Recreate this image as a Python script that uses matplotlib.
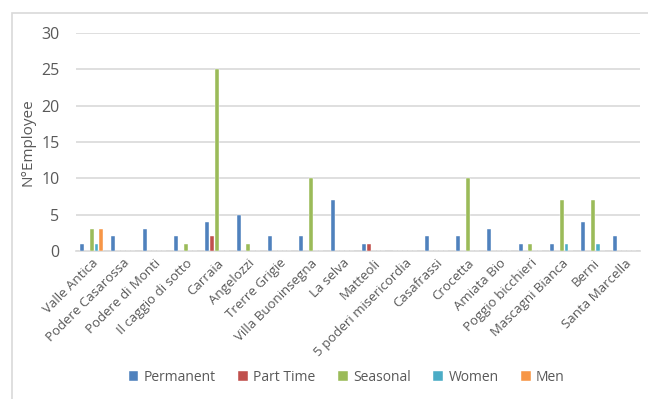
import matplotlib.pyplot as plt
import matplotlib.patches as mpatches
import numpy as np

plt.rcParams['font.family'] = ['Open Sans', 'DejaVu Sans']

farms = ["Valle Antica", "Podere Casarossa", "Podere di Monti", "Il caggio di sotto",
         "Carraia", "Angelozzi", "Trerre Grigie", "Villa Buoninsegna", "La selva",
         "Matteoli", "5 poderi misericordia", "Casafrassi", "Crocetta", "Amiata Bio",
         "Poggio bicchieri", "Mascagni Bianca", "Berni", "Santa Marcella"]

permanent = [1, 2, 3, 2, 4, 5, 2, 2, 7, 1, 0, 2, 2, 3, 1, 1, 4, 2]
part_time = [0, 0, 0, 0, 2, 0, 0, 0, 0, 1, 0, 0, 0, 0, 0, 0, 0, 0]
seasonal = [3, 0, 0, 1, 25, 1, 0, 10, 0, 0, 0, 0, 10, 0, 1, 7, 7, 0]
women = [1, 0, 0, 0, 0, 0, 0, 0, 0, 0, 0, 0, 0, 0, 0, 1, 1, 0]
men = [3, 0, 0, 0, 0, 0, 0, 0, 0, 0, 0, 0, 0, 0, 0, 0, 0, 0]

series = [("Permanent", permanent, "#4f81bd"),
          ("Part Time", part_time, "#c0504d"),
          ("Seasonal", seasonal, "#9bbb59"),
          ("Women", women, "#4bacc6"),
          ("Men", men, "#f79646")]

fig = plt.figure(figsize=(6.48, 3.99), dpi=100)
ax = fig.add_axes([76/648, 1 - 251/399, 564/648, 218/399])

# outer frame like the original screenshot
fig.patches.append(mpatches.Rectangle((12/648, -0.1), 1.2, 1 - 13/399 + 0.1,
                                      transform=fig.transFigure, fill=False,
                                      edgecolor="#d9d9d9", linewidth=1.2))

x = np.arange(len(farms))
step = 0.155
for i, (name, vals, col) in enumerate(series):
    ax.bar(x + (i - 2) * step, vals, width=step * 0.8, color=col, label=name,
           edgecolor="white", linewidth=0.3, zorder=3)

ax.set_xlim(-0.5, len(farms) - 0.5)
ax.set_ylim(0, 30)
ax.set_yticks(range(0, 31, 5))
ax.yaxis.grid(True, color="#d9d9d9", linewidth=1.2, zorder=0)
for s in ["top", "right", "left"]:
    ax.spines[s].set_visible(False)
ax.spines["bottom"].set_color("#d9d9d9")
ax.spines["bottom"].set_linewidth(1.2)
ax.tick_params(axis="both", length=0, colors="#595959")
ax.tick_params(axis="y", labelsize=11.5, pad=12)
ax.set_xticks(x)
ax.set_xticklabels(farms, rotation=45, ha="right", rotation_mode="anchor",
                   fontsize=9.5, color="#595959")
ax.tick_params(axis="x", pad=4)
ax.set_ylabel("N°Employee", fontsize=11, color="#595959", labelpad=4)

ax.legend(loc="lower center", bbox_to_anchor=(0.48, -0.67), ncol=5, frameon=False,
          fontsize=10, handlelength=0.7, handleheight=0.7, columnspacing=1.6,
          handletextpad=0.4, labelcolor="#595959")

fig.savefig("out.png", dpi=100)
